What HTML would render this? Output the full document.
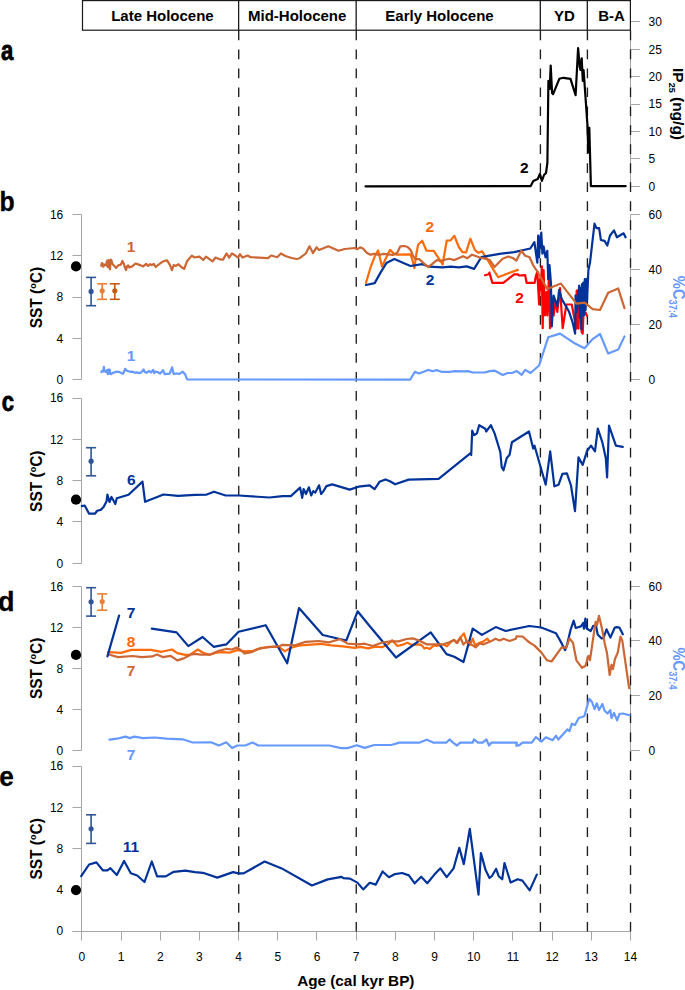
<!DOCTYPE html>
<html><head><meta charset="utf-8"><style>
html,body{margin:0;padding:0;background:#fff;}
body{width:685px;height:990px;overflow:hidden;}
svg{display:block;font-family:"Liberation Sans",sans-serif;}
</style></head><body>
<svg width="685" height="990" viewBox="0 0 685 990">
<text transform="translate(13.2,59.8) scale(0.82,1)" font-size="27" font-weight="bold" text-anchor="end" stroke="#000" stroke-width="0.8">a</text>
<text transform="translate(14.6,210.5) scale(0.92,1)" font-size="27" font-weight="bold" text-anchor="end" stroke="#000" stroke-width="0.3">b</text>
<text transform="translate(14.1,410.7) scale(0.82,1)" font-size="27" font-weight="bold" text-anchor="end" stroke="#000" stroke-width="0.8">c</text>
<text transform="translate(14.6,610.5) scale(1.0,1)" font-size="27" font-weight="bold" text-anchor="end" stroke="#000" stroke-width="0.3">d</text>
<text transform="translate(13.9,785.6) scale(0.97,1)" font-size="27" font-weight="bold" text-anchor="end" stroke="#000" stroke-width="0.3">e</text>
<line x1="630.5" y1="21.5" x2="630.5" y2="186.5" stroke="#a6a6a6" stroke-width="1" />
<line x1="630.5" y1="21.5" x2="640" y2="21.5" stroke="#a6a6a6" stroke-width="1" />
<text x="648.5" y="26.2" font-size="12" font-weight="normal" text-anchor="start" fill="#000" >30</text>
<line x1="630.5" y1="49.5" x2="640" y2="49.5" stroke="#a6a6a6" stroke-width="1" />
<text x="648.5" y="53.6" font-size="12" font-weight="normal" text-anchor="start" fill="#000" >25</text>
<line x1="630.5" y1="76.5" x2="640" y2="76.5" stroke="#a6a6a6" stroke-width="1" />
<text x="648.5" y="81.0" font-size="12" font-weight="normal" text-anchor="start" fill="#000" >20</text>
<line x1="630.5" y1="104.5" x2="640" y2="104.5" stroke="#a6a6a6" stroke-width="1" />
<text x="648.5" y="108.4" font-size="12" font-weight="normal" text-anchor="start" fill="#000" >15</text>
<line x1="630.5" y1="131.5" x2="640" y2="131.5" stroke="#a6a6a6" stroke-width="1" />
<text x="648.5" y="135.8" font-size="12" font-weight="normal" text-anchor="start" fill="#000" >10</text>
<line x1="630.5" y1="158.5" x2="640" y2="158.5" stroke="#a6a6a6" stroke-width="1" />
<text x="648.5" y="163.2" font-size="12" font-weight="normal" text-anchor="start" fill="#000" >5</text>
<line x1="630.5" y1="186.5" x2="640" y2="186.5" stroke="#a6a6a6" stroke-width="1" />
<text x="648.5" y="190.6" font-size="12" font-weight="normal" text-anchor="start" fill="#000" >0</text>
<text x="0" y="0" font-size="15.5" font-weight="bold" text-anchor="middle" transform="translate(673,104) rotate(90)">IP<tspan font-size="9" dy="4">25</tspan><tspan dy="-4"> (ng/g)</tspan></text>
<line x1="81.5" y1="214.5" x2="81.5" y2="379.5" stroke="#a6a6a6" stroke-width="1" />
<line x1="72.5" y1="214.5" x2="81.5" y2="214.5" stroke="#a6a6a6" stroke-width="1" />
<text x="63.3" y="218.8" font-size="12" font-weight="normal" text-anchor="end" fill="#000" >16</text>
<line x1="72.5" y1="255.5" x2="81.5" y2="255.5" stroke="#a6a6a6" stroke-width="1" />
<text x="63.3" y="260.05" font-size="12" font-weight="normal" text-anchor="end" fill="#000" >12</text>
<line x1="72.5" y1="297.5" x2="81.5" y2="297.5" stroke="#a6a6a6" stroke-width="1" />
<text x="63.3" y="301.3" font-size="12" font-weight="normal" text-anchor="end" fill="#000" >8</text>
<line x1="72.5" y1="338.5" x2="81.5" y2="338.5" stroke="#a6a6a6" stroke-width="1" />
<text x="63.3" y="342.55" font-size="12" font-weight="normal" text-anchor="end" fill="#000" >4</text>
<line x1="72.5" y1="379.5" x2="81.5" y2="379.5" stroke="#a6a6a6" stroke-width="1" />
<text x="63.3" y="383.8" font-size="12" font-weight="normal" text-anchor="end" fill="#000" >0</text>
<line x1="630.5" y1="214.5" x2="630.5" y2="379.5" stroke="#a6a6a6" stroke-width="1" />
<line x1="630.5" y1="214.5" x2="640" y2="214.5" stroke="#a6a6a6" stroke-width="1" />
<text x="648.5" y="218.8" font-size="12" font-weight="normal" text-anchor="start" fill="#000" >60</text>
<line x1="630.5" y1="269.5" x2="640" y2="269.5" stroke="#a6a6a6" stroke-width="1" />
<text x="648.5" y="273.73" font-size="12" font-weight="normal" text-anchor="start" fill="#000" >40</text>
<line x1="630.5" y1="324.5" x2="640" y2="324.5" stroke="#a6a6a6" stroke-width="1" />
<text x="648.5" y="328.67" font-size="12" font-weight="normal" text-anchor="start" fill="#000" >20</text>
<line x1="630.5" y1="379.5" x2="640" y2="379.5" stroke="#a6a6a6" stroke-width="1" />
<text x="648.5" y="383.6" font-size="12" font-weight="normal" text-anchor="start" fill="#000" >0</text>
<text x="0" y="0" font-size="15.5" font-weight="bold" text-anchor="middle" transform="translate(41.6,297.6) rotate(-90) scale(1,1.1)">SST (<tspan font-size="9" dy="-5">o</tspan><tspan dy="5">C)</tspan></text>
<line x1="81.5" y1="398.5" x2="81.5" y2="563.5" stroke="#a6a6a6" stroke-width="1" />
<line x1="72.5" y1="398.5" x2="81.5" y2="398.5" stroke="#a6a6a6" stroke-width="1" />
<text x="63.3" y="402.4" font-size="12" font-weight="normal" text-anchor="end" fill="#000" >16</text>
<line x1="72.5" y1="439.5" x2="81.5" y2="439.5" stroke="#a6a6a6" stroke-width="1" />
<text x="63.3" y="443.68" font-size="12" font-weight="normal" text-anchor="end" fill="#000" >12</text>
<line x1="72.5" y1="480.5" x2="81.5" y2="480.5" stroke="#a6a6a6" stroke-width="1" />
<text x="63.3" y="484.95" font-size="12" font-weight="normal" text-anchor="end" fill="#000" >8</text>
<line x1="72.5" y1="521.5" x2="81.5" y2="521.5" stroke="#a6a6a6" stroke-width="1" />
<text x="63.3" y="526.23" font-size="12" font-weight="normal" text-anchor="end" fill="#000" >4</text>
<line x1="72.5" y1="563.5" x2="81.5" y2="563.5" stroke="#a6a6a6" stroke-width="1" />
<text x="63.3" y="567.5" font-size="12" font-weight="normal" text-anchor="end" fill="#000" >0</text>
<text x="0" y="0" font-size="15.5" font-weight="bold" text-anchor="middle" transform="translate(41.6,481.2) rotate(-90) scale(1,1.1)">SST (<tspan font-size="9" dy="-5">o</tspan><tspan dy="5">C)</tspan></text>
<line x1="81.5" y1="586.5" x2="81.5" y2="750.5" stroke="#a6a6a6" stroke-width="1" />
<line x1="72.5" y1="586.5" x2="81.5" y2="586.5" stroke="#a6a6a6" stroke-width="1" />
<text x="63.3" y="590.6" font-size="12" font-weight="normal" text-anchor="end" fill="#000" >16</text>
<line x1="72.5" y1="627.5" x2="81.5" y2="627.5" stroke="#a6a6a6" stroke-width="1" />
<text x="63.3" y="631.6" font-size="12" font-weight="normal" text-anchor="end" fill="#000" >12</text>
<line x1="72.5" y1="668.5" x2="81.5" y2="668.5" stroke="#a6a6a6" stroke-width="1" />
<text x="63.3" y="672.6" font-size="12" font-weight="normal" text-anchor="end" fill="#000" >8</text>
<line x1="72.5" y1="709.5" x2="81.5" y2="709.5" stroke="#a6a6a6" stroke-width="1" />
<text x="63.3" y="713.6" font-size="12" font-weight="normal" text-anchor="end" fill="#000" >4</text>
<line x1="72.5" y1="750.5" x2="81.5" y2="750.5" stroke="#a6a6a6" stroke-width="1" />
<text x="63.3" y="754.6" font-size="12" font-weight="normal" text-anchor="end" fill="#000" >0</text>
<line x1="630.5" y1="586.5" x2="630.5" y2="750.5" stroke="#a6a6a6" stroke-width="1" />
<line x1="630.5" y1="586.5" x2="640" y2="586.5" stroke="#a6a6a6" stroke-width="1" />
<text x="648.5" y="590.6" font-size="12" font-weight="normal" text-anchor="start" fill="#000" >60</text>
<line x1="630.5" y1="640.5" x2="640" y2="640.5" stroke="#a6a6a6" stroke-width="1" />
<text x="648.5" y="645.27" font-size="12" font-weight="normal" text-anchor="start" fill="#000" >40</text>
<line x1="630.5" y1="695.5" x2="640" y2="695.5" stroke="#a6a6a6" stroke-width="1" />
<text x="648.5" y="699.93" font-size="12" font-weight="normal" text-anchor="start" fill="#000" >20</text>
<line x1="630.5" y1="750.5" x2="640" y2="750.5" stroke="#a6a6a6" stroke-width="1" />
<text x="648.5" y="754.6" font-size="12" font-weight="normal" text-anchor="start" fill="#000" >0</text>
<text x="0" y="0" font-size="15.5" font-weight="bold" text-anchor="middle" transform="translate(41.6,668.4) rotate(-90) scale(1,1.1)">SST (<tspan font-size="9" dy="-5">o</tspan><tspan dy="5">C)</tspan></text>
<line x1="81.5" y1="766.5" x2="81.5" y2="931.5" stroke="#a6a6a6" stroke-width="1" />
<line x1="72.5" y1="766.5" x2="81.5" y2="766.5" stroke="#a6a6a6" stroke-width="1" />
<text x="63.3" y="770.4" font-size="12" font-weight="normal" text-anchor="end" fill="#000" >16</text>
<line x1="72.5" y1="807.5" x2="81.5" y2="807.5" stroke="#a6a6a6" stroke-width="1" />
<text x="63.3" y="811.62" font-size="12" font-weight="normal" text-anchor="end" fill="#000" >12</text>
<line x1="72.5" y1="848.5" x2="81.5" y2="848.5" stroke="#a6a6a6" stroke-width="1" />
<text x="63.3" y="852.85" font-size="12" font-weight="normal" text-anchor="end" fill="#000" >8</text>
<line x1="72.5" y1="889.5" x2="81.5" y2="889.5" stroke="#a6a6a6" stroke-width="1" />
<text x="63.3" y="894.07" font-size="12" font-weight="normal" text-anchor="end" fill="#000" >4</text>
<line x1="72.5" y1="931.5" x2="81.5" y2="931.5" stroke="#a6a6a6" stroke-width="1" />
<text x="63.3" y="935.3" font-size="12" font-weight="normal" text-anchor="end" fill="#000" >0</text>
<text x="0" y="0" font-size="15.5" font-weight="bold" text-anchor="middle" transform="translate(41.6,848.9) rotate(-90) scale(1,1.1)">SST (<tspan font-size="9" dy="-5">o</tspan><tspan dy="5">C)</tspan></text>
<text x="0" y="0" font-size="16" font-weight="bold" fill="#6699ff" text-anchor="middle" transform="translate(673,296.9) rotate(90) scale(0.92,1.05)">%C<tspan font-size="10" dy="3.6">37:4</tspan></text>
<text x="0" y="0" font-size="16" font-weight="bold" fill="#6699ff" text-anchor="middle" transform="translate(673,668.5) rotate(90) scale(0.92,1.05)">%C<tspan font-size="10" dy="3.6">37:4</tspan></text>
<line x1="72.5" y1="931.5" x2="630.5" y2="931.5" stroke="#a6a6a6" stroke-width="1" />
<line x1="81.5" y1="931.5" x2="81.5" y2="940.5" stroke="#a6a6a6" stroke-width="1" />
<text x="81.9" y="960.7" font-size="12" font-weight="normal" text-anchor="middle" fill="#000" >0</text>
<line x1="121.5" y1="931.5" x2="121.5" y2="940.5" stroke="#a6a6a6" stroke-width="1" />
<text x="121.08" y="960.7" font-size="12" font-weight="normal" text-anchor="middle" fill="#000" >1</text>
<line x1="160.5" y1="931.5" x2="160.5" y2="940.5" stroke="#a6a6a6" stroke-width="1" />
<text x="160.26" y="960.7" font-size="12" font-weight="normal" text-anchor="middle" fill="#000" >2</text>
<line x1="199.5" y1="931.5" x2="199.5" y2="940.5" stroke="#a6a6a6" stroke-width="1" />
<text x="199.44" y="960.7" font-size="12" font-weight="normal" text-anchor="middle" fill="#000" >3</text>
<line x1="238.5" y1="931.5" x2="238.5" y2="940.5" stroke="#a6a6a6" stroke-width="1" />
<text x="238.62" y="960.7" font-size="12" font-weight="normal" text-anchor="middle" fill="#000" >4</text>
<line x1="277.5" y1="931.5" x2="277.5" y2="940.5" stroke="#a6a6a6" stroke-width="1" />
<text x="277.8" y="960.7" font-size="12" font-weight="normal" text-anchor="middle" fill="#000" >5</text>
<line x1="316.5" y1="931.5" x2="316.5" y2="940.5" stroke="#a6a6a6" stroke-width="1" />
<text x="316.98" y="960.7" font-size="12" font-weight="normal" text-anchor="middle" fill="#000" >6</text>
<line x1="356.5" y1="931.5" x2="356.5" y2="940.5" stroke="#a6a6a6" stroke-width="1" />
<text x="356.16" y="960.7" font-size="12" font-weight="normal" text-anchor="middle" fill="#000" >7</text>
<line x1="395.5" y1="931.5" x2="395.5" y2="940.5" stroke="#a6a6a6" stroke-width="1" />
<text x="395.34" y="960.7" font-size="12" font-weight="normal" text-anchor="middle" fill="#000" >8</text>
<line x1="434.5" y1="931.5" x2="434.5" y2="940.5" stroke="#a6a6a6" stroke-width="1" />
<text x="434.52" y="960.7" font-size="12" font-weight="normal" text-anchor="middle" fill="#000" >9</text>
<line x1="473.5" y1="931.5" x2="473.5" y2="940.5" stroke="#a6a6a6" stroke-width="1" />
<text x="473.7" y="960.7" font-size="12" font-weight="normal" text-anchor="middle" fill="#000" >10</text>
<line x1="512.5" y1="931.5" x2="512.5" y2="940.5" stroke="#a6a6a6" stroke-width="1" />
<text x="512.88" y="960.7" font-size="12" font-weight="normal" text-anchor="middle" fill="#000" >11</text>
<line x1="552.5" y1="931.5" x2="552.5" y2="940.5" stroke="#a6a6a6" stroke-width="1" />
<text x="552.06" y="960.7" font-size="12" font-weight="normal" text-anchor="middle" fill="#000" >12</text>
<line x1="591.5" y1="931.5" x2="591.5" y2="940.5" stroke="#a6a6a6" stroke-width="1" />
<text x="591.24" y="960.7" font-size="12" font-weight="normal" text-anchor="middle" fill="#000" >13</text>
<line x1="630.5" y1="931.5" x2="630.5" y2="940.5" stroke="#a6a6a6" stroke-width="1" />
<text x="630.42" y="960.7" font-size="12" font-weight="normal" text-anchor="middle" fill="#000" >14</text>
<text x="355.8" y="986.4" font-size="15.3" font-weight="bold" text-anchor="middle" fill="#000" >Age (cal kyr BP)</text>
<rect x="82.5" y="0.6" width="547.9" height="29.6" fill="none" stroke="#1a1a1a" stroke-width="1.2"/>
<line x1="238.62" y1="0.6" x2="238.62" y2="30.5" stroke="#1a1a1a" stroke-width="1.3" />
<line x1="356.16" y1="0.6" x2="356.16" y2="30.5" stroke="#1a1a1a" stroke-width="1.3" />
<line x1="540.31" y1="0.6" x2="540.31" y2="30.5" stroke="#1a1a1a" stroke-width="1.3" />
<line x1="587.32" y1="0.6" x2="587.32" y2="30.5" stroke="#1a1a1a" stroke-width="1.3" />
<text x="162.4" y="21" font-size="15" font-weight="bold" text-anchor="middle" fill="#000" >Late Holocene</text>
<text x="297.2" y="21" font-size="15" font-weight="bold" text-anchor="middle" fill="#000" >Mid-Holocene</text>
<text x="439.5" y="21" font-size="15" font-weight="bold" text-anchor="middle" fill="#000" >Early Holocene</text>
<text x="564.3" y="21" font-size="15" font-weight="bold" text-anchor="middle" fill="#000" >YD</text>
<text x="611.5" y="21" font-size="15" font-weight="bold" text-anchor="middle" fill="#000" >B-A</text>
<line x1="238.72" y1="30.5" x2="238.72" y2="931.5" stroke="#1e1e1e" stroke-width="1.35" stroke-dasharray="9.7 9.27"/>
<line x1="356.26" y1="30.5" x2="356.26" y2="931.5" stroke="#1e1e1e" stroke-width="1.35" stroke-dasharray="9.7 9.27"/>
<line x1="540.41" y1="30.5" x2="540.41" y2="931.5" stroke="#1e1e1e" stroke-width="1.35" stroke-dasharray="9.7 9.27"/>
<line x1="587.42" y1="30.5" x2="587.42" y2="931.5" stroke="#1e1e1e" stroke-width="1.35" stroke-dasharray="9.7 9.27"/>
<line x1="630.52" y1="30.5" x2="630.52" y2="931.5" stroke="#1e1e1e" stroke-width="1.35" stroke-dasharray="9.7 9.27"/>
<polyline points="365.5,186.3 530.7,186.1 533.3,181.0 537.8,179.0 539.9,173.9 541.9,181.0 544.0,175.0 546.0,173.0 547.4,162.6 548.4,80.9 549.2,86.0 549.7,89.0 550.7,65.5 552.1,93.1 553.1,94.2 559.3,78.8 563.4,77.8 570.5,78.8 575.6,95.2 578.1,48.2 579.7,66.6 580.5,70.0 581.7,58.4 582.8,80.9 583.6,70.0 585.8,101.3 587.5,125.8 588.3,152.4 589.3,127.9 590.9,186.1 625.7,186.1" fill="none" stroke="#000000" stroke-width="2.2" stroke-linejoin="round" stroke-linecap="round"/>
<polyline points="101.4,372.0 102.1,371.0 103.2,371.5 103.9,366.9 104.3,370.2 105.0,371.3 105.8,372.0 106.5,371.0 107.2,369.9 107.9,374.2 108.5,369.5 109.1,372.4 109.8,369.5 110.1,373.9 111.2,374.2 112.3,373.1 114.5,372.4 116.0,371.7 118.9,371.8 122.9,373.9 124.0,371.7 125.1,368.8 126.2,370.2 127.7,371.0 129.1,371.3 130.6,372.0 132.0,371.7 133.5,372.0 135.0,372.8 136.8,372.4 139.3,373.1 141.2,372.4 143.6,369.5 144.7,372.0 146.6,372.8 148.8,371.0 150.9,372.4 153.1,369.9 154.2,373.1 155.3,371.7 157.5,372.0 160.1,373.5 163.0,370.2 164.8,374.2 167.0,373.9 169.6,373.7 172.1,367.3 173.6,373.9 176.5,373.5 179.4,373.9 182.7,371.7 185.3,374.6 187.1,379.4 410.1,379.7 414.9,371.8 419.0,373.5 428.2,369.9 432.5,371.3 436.6,370.1 441.4,371.8 449.8,371.8 454.7,371.1 463.1,371.3 467.9,371.1 472.7,372.5 484.8,372.5 489.6,371.1 494.4,370.6 502.8,374.9 507.6,373.0 512.0,373.0 516.8,371.1 521.6,374.9 525.2,369.9 530.5,373.0 539.1,365.5 548.2,337.3 560.0,333.6 573.6,342.7 584.5,348.2 592.7,339.1 600.0,334.0 608.2,353.6 618.2,349.6 624.5,336.4" fill="none" stroke="#6699ff" stroke-width="2.2" stroke-linejoin="round" stroke-linecap="round"/>
<polyline points="366.0,282.8 370.3,268.2 374.7,256.5 378.1,250.4 382.0,266.4 386.4,257.2 390.0,249.9 394.1,253.9 397.3,254.7 410.5,254.3 412.7,260.9 414.4,268.2 416.3,254.3 418.1,244.8 422.2,240.7 426.5,250.7 433.8,250.9 438.9,258.7 442.6,264.5 446.7,240.7 450.6,240.4 454.4,235.8 458.8,247.0 462.4,252.1 466.1,252.4 470.4,238.7 474.8,249.9 478.5,252.8 482.1,251.4 485.0,255.8 488.7,261.6 493.8,270.4 498.2,277.2 508.4,273.3 517.9,269.9" fill="none" stroke="#ff6a0a" stroke-width="2.2" stroke-linejoin="round" stroke-linecap="round"/>
<polyline points="485.0,275.2 488.7,274.3 489.4,272.6 492.3,282.8 503.3,282.8 514.2,274.3 517.4,274.3 519.3,275.5 525.2,275.2 526.6,282.8 534.7,282.8 535.8,276.2 537.3,271.8 539.1,304.5 540.0,279.0 540.9,290.0 541.8,266.4 542.7,328.2 543.6,270.0 544.9,315.5 546.4,292.0 547.3,315.5 549.1,271.8 550.0,328.2 551.8,304.5 553.6,315.5 555.5,300.9 557.3,311.8 560.0,288.2 562.7,328.2 566.4,304.5 571.8,304.5 574.5,319.1 576.4,328.6 576.7,290.5 577.8,290.5 578.5,328.6 579.5,305.0 580.6,306.0 581.7,332.1 582.7,333.6 583.4,316.0 585.5,312.4 587.0,316.0" fill="none" stroke="#ff0000" stroke-width="2.2" stroke-linejoin="round" stroke-linecap="round"/>
<polyline points="366.0,285.0 374.7,283.1 380.5,272.6 386.4,263.1 394.4,259.1 401.7,262.3 410.5,266.0 422.2,264.1 429.5,266.7 442.6,267.4 450.6,266.7 458.8,267.4 466.8,266.4 474.1,268.9 481.4,257.2 488.0,255.8 501.1,253.6 514.2,252.1 530.3,248.5 534.4,242.2 537.3,262.7 538.2,235.5 539.1,257.3 540.0,239.1 541.3,232.7 542.4,253.6 543.6,246.4 545.5,257.3 547.3,250.9 548.2,279.1 549.5,265.0 550.9,282.7 551.8,326.4 553.6,295.5 557.3,306.4 559.1,290.0 561.8,299.1 569.1,311.8 572.7,322.7 575.1,333.6 575.6,295.4 576.6,312.0 579.2,285.5 580.0,318.0 580.6,288.0 581.3,329.3 582.0,284.0 582.6,316.0 583.3,282.7 584.1,315.2 584.8,279.2 585.6,310.0 586.4,279.0 587.1,300.0 588.4,270.0 590.0,262.7 594.5,223.6 596.4,228.2 599.1,228.2 600.9,240.0 604.5,240.9 607.3,245.5 610.0,235.5 614.0,230.4 616.9,237.3 623.6,233.3 625.5,237.3" fill="none" stroke="#003399" stroke-width="2.2" stroke-linejoin="round" stroke-linecap="round"/>
<polyline points="101.2,265.7 101.9,263.1 102.7,263.9 103.4,266.8 104.5,264.6 106.0,265.3 107.0,260.9 107.8,266.8 108.5,260.2 109.2,267.5 110.0,269.3 110.7,259.5 111.4,260.2 112.2,263.5 113.6,265.3 116.2,267.9 118.4,265.3 120.9,264.6 122.4,261.0 123.8,263.5 124.6,266.8 126.0,270.1 127.1,266.1 128.2,265.3 129.3,267.5 132.2,266.4 135.5,263.5 138.8,264.6 141.7,265.7 143.2,266.4 146.2,263.8 148.1,266.0 150.0,264.2 151.9,265.1 153.8,263.8 155.7,267.0 160.5,263.2 163.3,261.3 167.1,260.4 170.0,265.1 171.9,270.2 173.7,265.1 175.6,266.0 178.5,264.2 181.3,267.0 184.2,268.9 187.0,261.3 191.8,255.6 194.6,257.5 199.4,256.6 203.2,260.0 206.0,256.6 209.8,259.4 212.6,261.3 215.5,257.5 220.2,259.4 223.1,259.6 226.5,253.5 229.2,257.6 231.9,253.5 235.3,255.5 238.0,257.6 240.0,254.1 242.5,257.6 247.6,255.5 250.7,257.2 268.0,258.2 271.1,255.5 277.2,257.2 280.9,253.5 285.4,256.0 291.5,258.0 296.6,259.0 299.7,258.2 305.8,253.5 309.5,246.3 313.0,253.1 316.5,247.4 319.1,250.0 328.3,246.3 338.5,250.8 344.7,249.0 354.9,248.0 357.2,249.2 360.1,247.4 363.0,248.5 366.7,252.8 370.3,254.7 374.7,253.9 379.1,255.0 383.5,253.9 387.8,254.3 393.0,255.0 397.3,252.8 400.3,246.3 404.6,246.0 407.6,247.0 410.5,249.9 413.4,256.5 415.6,259.1 419.2,259.1 423.6,263.1 428.0,267.0 432.4,263.8 436.8,260.1 441.1,260.9 444.8,259.7 449.2,258.7 454.4,260.1 463.1,256.2 467.5,258.2 471.9,254.7 479.2,257.2 485.0,258.7 489.4,259.7 494.5,267.0 502.6,258.7 508.4,256.5 512.8,258.0 516.4,260.6 521.2,250.7 525.2,255.8 529.6,257.2 533.2,265.3 537.6,271.8 547.3,289.1 560.9,283.6 576.4,303.6 584.5,302.7 592.7,309.1 600.0,310.0 608.2,292.7 618.2,288.5 624.5,308.2" fill="none" stroke="#cc6633" stroke-width="2.2" stroke-linejoin="round" stroke-linecap="round"/>
<polyline points="81.8,506.1 84.7,505.5 89.1,513.7 94.9,513.7 97.2,510.8 100.7,509.9 103.6,507.0 106.6,501.2 107.4,494.5 109.5,502.0 111.5,497.0 113.9,501.2 115.3,504.1 116.8,498.2 128.5,494.7 142.5,481.6 145.1,501.8 163.5,494.5 178.1,495.9 195.0,494.9 206.7,494.6 214.0,491.7 225.7,495.5 238.8,495.5 269.5,497.5 282.6,496.1 290.8,496.1 300.1,487.6 302.2,497.8 303.6,489.1 306.0,494.0 308.9,487.3 311.2,495.5 313.2,491.1 315.3,492.6 319.1,485.3 321.1,494.0 323.5,491.1 326.4,486.1 332.2,484.4 349.7,489.6 358.5,486.7 369.6,485.3 374.6,489.1 379.5,481.8 385.4,479.4 390.0,481.2 395.1,484.3 408.7,479.6 438.6,478.9 470.6,453.2 471.2,455.0 472.2,430.6 474.1,435.2 476.9,433.4 479.2,425.2 485.3,428.7 486.2,431.5 490.9,425.2 494.6,433.4 500.3,452.0 501.7,467.2 503.5,470.3 506.8,457.9 509.6,454.8 511.9,442.2 529.0,431.5 533.2,448.5 534.5,445.7 545.7,484.7 550.2,451.4 554.4,486.3 558.6,484.7 562.4,473.9 566.9,473.4 571.0,485.5 575.0,511.2 578.5,457.4 582.7,464.9 587.0,451.0 591.0,445.7 595.0,451.4 597.8,428.5 602.3,442.1 605.8,458.2 607.1,477.4 609.0,425.7 615.9,445.7 622.8,446.9" fill="none" stroke="#003399" stroke-width="2.2" stroke-linejoin="round" stroke-linecap="round"/>
<polyline points="109.5,739.6 116.8,738.7 125.5,736.6 129.9,738.1 134.3,736.6 143.1,738.1 154.7,737.5 166.4,738.7 182.5,739.3 192.7,742.5 211.0,742.3 218.9,745.5 226.3,742.3 232.0,748.1 237.3,745.5 245.2,745.5 252.5,742.6 258.3,745.5 329.3,745.5 341.1,748.1 347.6,748.1 356.8,745.2 364.7,747.9 374.2,745.0 391.3,745.0 399.2,742.6 419.7,742.6 426.7,739.7 433.3,742.6 446.5,742.6 449.6,739.4 453.0,742.6 457.0,745.5 460.1,742.6 472.7,742.6 474.0,739.4 478.0,742.6 482.7,742.6 486.4,739.4 489.0,745.5 491.6,742.6 516.9,742.6 516.3,745.7 518.7,745.5 522.6,742.6 531.8,742.6 535.8,737.1 541.6,741.5 545.8,737.3 552.6,740.2 545.8,737.3 552.6,740.2 556.0,735.7 558.3,739.5 567.3,729.4 569.5,731.0 571.9,723.7 575.0,725.0 578.7,718.0 584.3,716.2 589.3,698.8 592.0,702.0 594.5,709.0 596.8,703.3 599.0,710.0 602.4,704.0 604.7,710.8 607.5,713.5 610.3,710.1 611.5,718.0 614.0,713.0 617.1,720.3 619.4,714.0 622.8,713.5 629.6,715.3" fill="none" stroke="#6699ff" stroke-width="2.2" stroke-linejoin="round" stroke-linecap="round"/>
<polyline points="108.2,652.4 109.6,652.1 120.8,652.9 131.3,649.9 151.0,649.9 161.5,651.8 172.0,649.5 177.3,653.1 186.5,655.1 190.0,654.7 197.9,649.5 203.1,652.7 209.7,654.7 216.3,652.7 222.9,652.1 229.4,652.7 237.3,650.1 245.2,651.4 253.1,650.8 261.0,648.1 268.8,646.8 278.8,646.8 284.6,651.2 291.9,647.5 300.7,645.3 310.9,644.6 321.1,643.9 331.3,645.3 343.0,646.4 354.7,647.8 360.5,646.8 368.2,648.4 375.2,646.6 382.2,647.2 388.0,644.3 392.1,640.2 397.4,646.0 402.0,644.9 407.3,642.8 412.0,644.9 419.6,644.3 421.9,645.4 424.2,648.4 426.6,647.8 430.0,649.0 433.6,645.4 437.1,646.0 440.0,645.0 443.5,644.5 447.0,646.3 450.5,642.2 454.0,639.9 456.4,642.8 459.9,638.1 463.9,633.4 466.9,642.2 469.8,645.1 472.7,638.7 475.0,645.1 478.5,643.4 483.2,641.6 487.3,638.7 489.0,641.0" fill="none" stroke="#ff6a0a" stroke-width="2.2" stroke-linejoin="round" stroke-linecap="round"/>
<polyline points="151.8,628.6 176.6,632.4 188.3,646.1 202.6,637.0 213.6,646.8 226.3,644.4 238.6,631.8 265.7,625.2 287.2,663.3 299.0,608.1 322.7,635.0 346.3,640.5 357.6,611.3 370.0,626.5 396.0,657.5 430.7,632.3 446.5,654.1 454.3,656.7 463.5,662.0 472.7,628.6 481.9,634.9 495.8,627.1 505.6,631.0 529.2,626.0 541.3,627.5 556.0,633.2 561.7,643.4 565.1,650.2 567.0,645.0 570.7,629.3 573.7,620.7 575.7,628.0 580.9,626.4 583.2,623.0 583.9,628.7 585.4,618.5 586.6,628.5 590.7,631.0 593.3,625.8 596.0,625.8 597.7,634.5 601.6,638.5 603.5,638.0 606.5,629.3 610.4,637.6 614.8,627.5 617.1,627.1 619.4,627.5 622.8,634.3" fill="none" stroke="#003399" stroke-width="2.2" stroke-linejoin="round" stroke-linecap="round"/>
<polyline points="108.2,654.5 109.6,654.7 118.1,657.1 132.6,656.0 141.8,657.1 152.3,656.4 156.9,654.5 162.8,657.1 170.7,655.8 177.3,660.4 183.8,658.4 190.4,654.7 195.0,653.8 200.5,654.7 209.7,654.7 218.9,650.8 226.8,648.8 232.0,649.5 236.6,647.5 239.9,649.5 244.5,653.4 251.8,652.1 258.3,648.8 266.2,647.5 274.1,646.6 280.0,646.2 282.0,644.9 295.1,645.4 305.6,641.8 318.7,641.0 329.3,642.3 339.8,639.1 347.6,643.6 358.2,644.4 364.7,643.7 372.8,646.0 382.2,642.5 390.4,641.4 398.5,641.4 406.7,639.0 412.6,638.4 418.4,640.2 426.6,644.3 434.8,644.3 439.9,644.4 444.0,644.0 449.3,642.2 454.0,639.9 457.5,642.8 460.4,637.5 463.4,644.5 466.9,641.0 470.4,643.9 475.6,647.4 479.7,643.4 483.2,644.5 490.2,641.6 495.5,638.7 499.6,640.4 503.6,638.7 509.5,641.0 515.9,638.7 516.5,636.4 522.6,636.5 529.2,642.3 534.5,645.6 541.3,652.4 547.0,660.3 551.5,661.5 561.7,647.4 566.2,647.9 569.6,638.4 573.0,642.9 576.4,660.3 582.0,667.8 585.4,666.0 588.4,655.8 590.0,660.0 593.4,636.6 595.6,621.9 597.0,625.0 599.0,615.8 602.0,628.7 604.7,643.4 606.9,652.4 609.7,675.0 611.5,664.9 613.0,669.0 614.9,659.2 617.8,652.4 620.5,636.6 622.3,640.6 629.1,688.2" fill="none" stroke="#cc6633" stroke-width="2.2" stroke-linejoin="round" stroke-linecap="round"/>
<polyline points="107.4,656.4 119.1,615.5" fill="none" stroke="#003399" stroke-width="2.2" stroke-linejoin="round" stroke-linecap="round"/>
<polyline points="81.2,876.1 89.1,864.5 96.4,862.4 102.8,870.3 107.4,870.3 110.4,868.2 116.8,875.0 124.1,861.0 130.8,873.2 137.2,875.5 144.5,882.0 151.8,861.5 157.1,876.4 165.8,876.4 173.7,871.8 185.4,870.6 195.0,872.1 202.9,872.8 217.3,877.6 233.1,872.1 238.4,873.4 243.6,873.4 264.6,861.5 281.7,868.4 311.9,885.5 327.7,879.4 341.6,876.8 343.4,878.1 350.0,878.6 357.4,882.6 363.2,889.4 369.7,882.8 375.8,884.6 382.6,871.5 388.9,877.2 395.0,874.1 402.1,873.0 408.9,875.4 414.7,883.3 421.2,876.7 427.3,883.3 434.4,874.6 440.4,868.3 446.7,877.2 453.6,868.3 459.3,847.8 463.8,864.1 469.8,828.9 478.5,894.6 480.9,853.1 485.6,870.1 489.5,878.0 492.0,876.0 496.1,868.8 498.7,876.2 502.2,879.3 504.5,863.0 510.6,882.5 517.7,879.3 522.4,880.6 529.7,890.4 536.8,874.6" fill="none" stroke="#003399" stroke-width="2.2" stroke-linejoin="round" stroke-linecap="round"/>
<text x="524.3" y="173.3" font-size="15.5" font-weight="bold" text-anchor="middle" fill="#000" >2</text>
<text x="131" y="252.4" font-size="15.5" font-weight="bold" text-anchor="middle" fill="#cc6633" >1</text>
<text x="131" y="360.8" font-size="15.5" font-weight="bold" text-anchor="middle" fill="#6699ff" >1</text>
<text x="429.7" y="231.7" font-size="15.5" font-weight="bold" text-anchor="middle" fill="#ff6a0a" >2</text>
<text x="430" y="285" font-size="15.5" font-weight="bold" text-anchor="middle" fill="#003399" >2</text>
<text x="519.5" y="302.5" font-size="15.5" font-weight="bold" text-anchor="middle" fill="#ff0000" >2</text>
<text x="131.4" y="485.1" font-size="15.5" font-weight="bold" text-anchor="middle" fill="#003399" >6</text>
<text x="131" y="618.4" font-size="15.5" font-weight="bold" text-anchor="middle" fill="#003399" >7</text>
<text x="131" y="647" font-size="15.5" font-weight="bold" text-anchor="middle" fill="#ff6a0a" >8</text>
<text x="131" y="676.2" font-size="15.5" font-weight="bold" text-anchor="middle" fill="#cc6633" >7</text>
<text x="131" y="760" font-size="15.5" font-weight="bold" text-anchor="middle" fill="#6699ff" >7</text>
<text x="131" y="852.2" font-size="15.5" font-weight="bold" text-anchor="middle" fill="#003399" >11</text>
<circle cx="76" cy="266.4" r="5.1" fill="#000"/>
<circle cx="76" cy="499.7" r="5.1" fill="#000"/>
<circle cx="76" cy="654.9" r="5.1" fill="#000"/>
<circle cx="76" cy="890.1" r="5.1" fill="#000"/>
<line x1="91.1" y1="277.4" x2="91.1" y2="305.7" stroke="#2f5597" stroke-width="1.6" />
<line x1="86.1" y1="277.4" x2="96.1" y2="277.4" stroke="#2f5597" stroke-width="1.6" />
<line x1="86.1" y1="305.7" x2="96.1" y2="305.7" stroke="#2f5597" stroke-width="1.6" />
<circle cx="91.1" cy="291.4" r="2.6" fill="#2f5597"/>
<line x1="102.2" y1="283.8" x2="102.2" y2="299.3" stroke="#ed7d31" stroke-width="1.6" />
<line x1="97.2" y1="283.8" x2="107.2" y2="283.8" stroke="#ed7d31" stroke-width="1.6" />
<line x1="97.2" y1="299.3" x2="107.2" y2="299.3" stroke="#ed7d31" stroke-width="1.6" />
<circle cx="102.2" cy="290.8" r="2.6" fill="#ed7d31"/>
<line x1="114.8" y1="283.8" x2="114.8" y2="299.3" stroke="#c55a11" stroke-width="1.6" />
<line x1="109.8" y1="283.8" x2="119.8" y2="283.8" stroke="#c55a11" stroke-width="1.6" />
<line x1="109.8" y1="299.3" x2="119.8" y2="299.3" stroke="#c55a11" stroke-width="1.6" />
<circle cx="114.8" cy="290.8" r="2.6" fill="#c55a11"/>
<line x1="91.1" y1="447.7" x2="91.1" y2="475.8" stroke="#2f5597" stroke-width="1.6" />
<line x1="86.1" y1="447.7" x2="96.1" y2="447.7" stroke="#2f5597" stroke-width="1.6" />
<line x1="86.1" y1="475.8" x2="96.1" y2="475.8" stroke="#2f5597" stroke-width="1.6" />
<circle cx="91.1" cy="461.2" r="2.6" fill="#2f5597"/>
<line x1="91.1" y1="587.7" x2="91.1" y2="616.1" stroke="#2f5597" stroke-width="1.6" />
<line x1="86.1" y1="587.7" x2="96.1" y2="587.7" stroke="#2f5597" stroke-width="1.6" />
<line x1="86.1" y1="616.1" x2="96.1" y2="616.1" stroke="#2f5597" stroke-width="1.6" />
<circle cx="91.1" cy="601.8" r="2.6" fill="#2f5597"/>
<line x1="102.2" y1="593.9" x2="102.2" y2="610.2" stroke="#ed7d31" stroke-width="1.6" />
<line x1="97.2" y1="593.9" x2="107.2" y2="593.9" stroke="#ed7d31" stroke-width="1.6" />
<line x1="97.2" y1="610.2" x2="107.2" y2="610.2" stroke="#ed7d31" stroke-width="1.6" />
<circle cx="102.2" cy="601.5" r="2.6" fill="#ed7d31"/>
<line x1="91.1" y1="814.8" x2="91.1" y2="843.4" stroke="#2f5597" stroke-width="1.6" />
<line x1="86.1" y1="814.8" x2="96.1" y2="814.8" stroke="#2f5597" stroke-width="1.6" />
<line x1="86.1" y1="843.4" x2="96.1" y2="843.4" stroke="#2f5597" stroke-width="1.6" />
<circle cx="91.1" cy="828.8" r="2.6" fill="#2f5597"/>
</svg>
</body></html>
